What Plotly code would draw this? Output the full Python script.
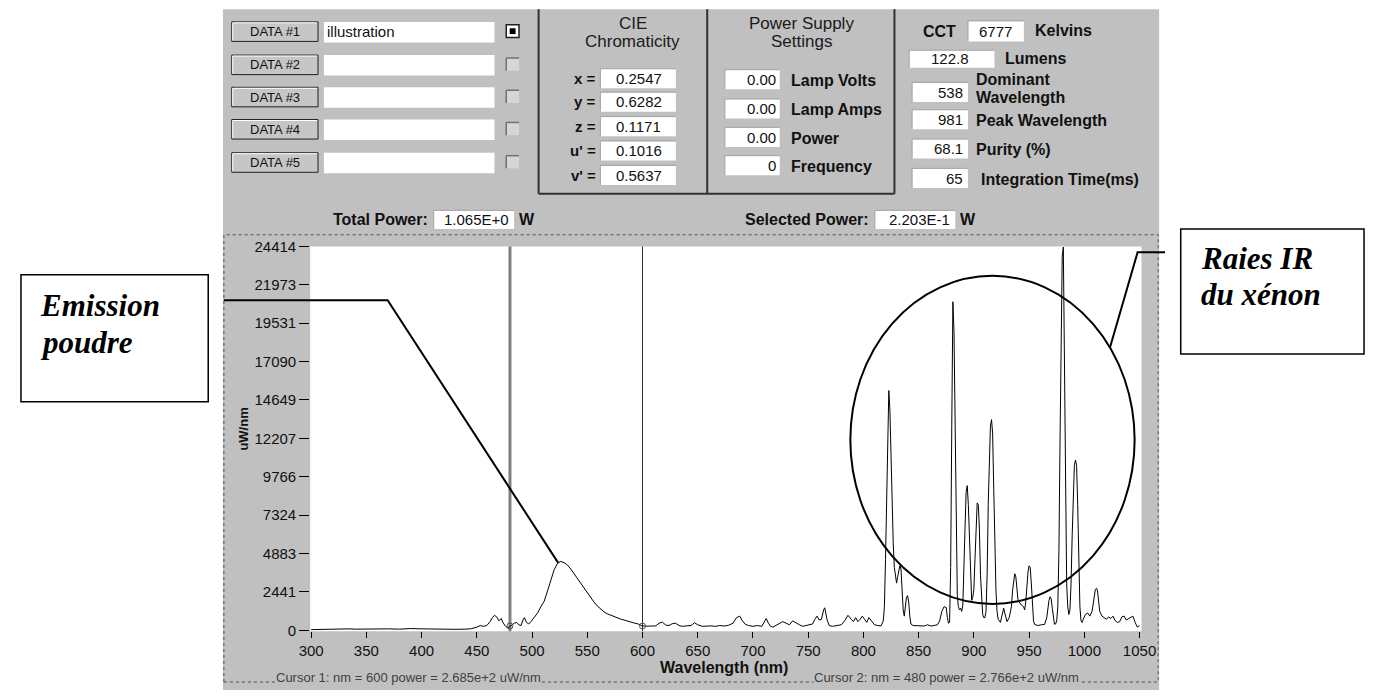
import plotly.graph_objects as go

# page body keeps its default 8px margin, so the figure is 16px smaller than the window
PAGE_W, PAGE_H = 1389, 698
MARGIN = 8
W, H = PAGE_W - 2 * MARGIN, PAGE_H - 2 * MARGIN

# ---------------- data ----------------
wavelength_nm = [
    300, 310, 320, 330, 335, 340, 350, 360, 365, 370, 380, 390, 400, 410, 420, 430, 440, 445,
    450, 453, 456, 459, 462, 464, 466, 468, 470, 472, 474, 476, 478, 480, 482, 484, 486, 488,
    490, 492, 493, 495, 497, 499, 502, 505, 508, 511, 514, 517, 520, 523, 526, 529, 532, 535,
    538, 541, 544, 547, 550, 553, 556, 559, 562, 565, 568, 571, 574, 577, 580, 584, 588, 592,
    596, 600, 604, 608, 612, 615, 618, 621, 624, 627, 630, 633, 636, 640, 644, 647, 650, 654,
    658, 662, 666, 670, 674, 678, 682, 685, 688, 690, 693, 696, 700, 704, 708, 710, 712, 714,
    716, 718, 721, 724, 727, 730, 733, 736, 739, 742, 745, 748, 751, 754, 756, 758, 760, 762,
    764, 765, 767, 769, 772, 776, 780, 783, 786, 789, 791, 793, 795, 797, 799, 801, 803, 805,
    807, 810, 813, 816, 818,
    819, 820, 821, 822, 823, 824, 825, 826, 827, 828, 829, 830, 831, 832, 833, 834, 835, 836,
    837, 838, 839, 840, 841, 842, 843, 845, 848, 851, 855, 858, 861, 864, 867, 869, 871, 873,
    875, 876, 877, 878, 879, 880, 881, 882, 883, 884, 885, 886, 887, 888, 889, 890, 891, 892,
    893, 894, 895, 896, 897, 898, 899, 900, 901, 902, 903, 904, 905, 906, 907, 908, 909, 910,
    911, 912, 913, 914, 915, 916, 917, 918, 919, 920, 921, 922, 924, 926, 927, 928, 930, 932,
    934, 935, 936, 937, 938, 939, 940, 941, 943, 945, 946, 947, 948, 949, 950, 951, 952, 953,
    954, 955, 958, 961, 964, 966, 967, 968, 969, 970, 971, 972, 973, 974, 975, 976, 977, 978,
    979, 980, 981, 982, 983, 984, 985, 986, 987, 988, 989, 990, 991, 992, 993, 994, 995, 996,
    997, 998, 999, 1001, 1003, 1005, 1007, 1008, 1009, 1010, 1011, 1012, 1013, 1014, 1016, 1018,
    1020, 1022, 1024, 1026, 1028, 1030, 1032, 1034, 1036, 1038, 1040, 1042, 1044, 1046, 1048, 1050,
]
power_uw = [
    40, 60, 50, 110, 90, 70, 90, 110, 80, 90, 70, 110, 90, 70, 80, 60, 70, 100,
    200, 300, 250, 300, 550, 800, 950, 850, 600, 750, 450, 250, 150, 277, 350, 450, 500, 350,
    300, 700, 800, 500, 400, 550, 800, 1100, 1500, 1850, 2500, 3200, 3850, 4250, 4380, 4300, 4150, 3900,
    3600, 3300, 2950, 2650, 2350, 2050, 1800, 1550, 1350, 1180, 1050, 950, 870, 800, 720, 620, 560, 470,
    400, 269, 260, 250, 280, 450, 520, 330, 300, 420, 450, 300, 250, 280, 300, 480, 350, 250,
    270, 280, 250, 300, 270, 320, 450, 800, 900, 650, 380, 300, 250, 300, 250, 500, 750, 450,
    250, 200, 300, 450, 550, 450, 350, 600, 450, 350, 250, 300, 350, 400, 700, 900, 650, 700,
    1300, 1430, 700, 300, 250, 300, 350, 600, 950, 700, 550, 800, 550, 700, 900, 700, 500, 800,
    600, 350, 300, 280, 600,
    1500, 4500, 9000, 13500, 15250, 14000, 11000, 7500, 5500, 4000, 3500, 3000, 3400, 3900, 4100, 3900, 2600, 1300,
    900, 1500, 2100, 2200, 1800, 900, 400, 300, 280, 300, 270, 350, 270, 300, 350, 600, 1200, 1500,
    1450, 800, 450, 500, 4000, 13000, 20900, 19000, 12000, 5000, 2200, 1500, 1300, 1400, 1200, 1600, 3500, 6500,
    8800, 9200, 8000, 5500, 3000, 1900, 2100, 2600, 4500, 7000, 8100, 8000, 6500, 3500, 1800, 1000, 800, 800,
    1200, 3500, 8000, 11500, 13000, 13400, 12500, 9000, 5000, 2500, 1200, 700, 500, 1000, 1400, 1100, 550, 800,
    1500, 2500, 3300, 3600, 3400, 2600, 1900, 1800, 1600, 1500, 1300, 1800, 2800, 3700, 4100, 4000, 3000, 1500,
    600, 370, 300, 350, 370, 800, 1400, 1900, 2130, 2000, 1400, 700, 380, 400, 600, 1500, 5000, 12000,
    20000, 23800, 24380, 17000, 8000, 3000, 1500, 1000, 1300, 3000, 6000, 9000, 10500, 10830, 10500, 8000, 4000, 1500,
    600, 500, 700, 1000, 1100, 900, 1200, 1800, 2300, 2600, 2670, 2500, 1800, 1200, 900, 800,
    700, 850, 750, 900, 600, 500, 550, 850, 900, 650, 750, 800, 900, 500, 200, 300,
]

x_tick_vals = [300, 350, 400, 450, 500, 550, 600, 650, 700, 750, 800, 850, 900, 950, 1000, 1050]
y_tick_vals = [0, 2441, 4883, 7324, 9766, 12207, 14649, 17090, 19531, 21973, 24414]
y_tick_text = ["0", "2441", "4883", "7324", "9766", "12207", "14649", "17090", "19531", "21973", "24414"]

cursor_labels = ["Cursor 1", "Cursor 2"]
cursor_nm = [600, 480]
cursor_power = [268.5, 276.6]

data_buttons = ["DATA #1", "DATA #2", "DATA #3", "DATA #4", "DATA #5"]
data_names = ["illustration", "", "", "", ""]
data_checked = [True, False, False, False, False]

cie_labels = ["x =", "y =", "z =", "u' =", "v' ="]
cie_values = ["0.2547", "0.6282", "0.1171", "0.1016", "0.5637"]

psu_labels = ["Lamp Volts", "Lamp Amps", "Power", "Frequency"]
psu_values = ["0.00", "0.00", "0.00", "0"]

cct_value = "6777"
lumens_value = "122.8"
right_labels = ["Peak Wavelength", "Purity (%)", "Integration Time(ms)"]
right_values = ["981", "68.1", "65"]
dominant_value = "538"

total_power = "1.065E+0"
selected_power = "2.203E-1"

# ---------------- helpers (window pixel -> paper) ----------------
def X(px):
    return (px - MARGIN) / W


def Y(py):
    return 1 - (py - MARGIN) / H


UI = "Liberation Sans, Arial, sans-serif"
SERIF = "Liberation Serif, Times New Roman, serif"
GRAY = "#c0c0c0"

shapes = []
annotations = []


def rect(x0, y0, x1, y1, fill="rgba(0,0,0,0)", lc="rgba(0,0,0,0)", lw=0, dash=None, layer="below"):
    ln = dict(color=lc, width=lw)
    if dash:
        ln["dash"] = dash
    shapes.append(dict(type="rect", xref="paper", yref="paper", x0=X(x0), x1=X(x1),
                       y0=Y(y1), y1=Y(y0), fillcolor=fill, line=ln, layer=layer))


def seg(x0, y0, x1, y1, color="#000", lw=1, layer="below"):
    shapes.append(dict(type="line", xref="paper", yref="paper", x0=X(x0), x1=X(x1),
                       y0=Y(y0), y1=Y(y1), line=dict(color=color, width=lw), layer=layer))


def text(x, y, s, size=14, bold=False, italic=False, anchor="left", color="#111111",
         family=UI, bg=None, angle=0):
    t = s
    if bold:
        t = "<b>" + t + "</b>"
    if italic:
        t = "<i>" + t + "</i>"
    a = dict(x=X(x), y=Y(y), xref="paper", yref="paper", text=t, showarrow=False,
             xanchor=anchor, yanchor="middle", textangle=angle,
             font=dict(family=family, size=size, color=color), borderpad=0)
    if bg:
        a["bgcolor"] = bg
    annotations.append(a)


def inbox(x0, y0, x1, y1):
    rect(x0, y0, x1, y1, fill="#ffffff")
    seg(x0, y0, x1, y0, "#a0a0a0", 1)
    seg(x0, y0, x0, y1, "#a0a0a0", 1)


# ---------------- backgrounds ----------------
rect(215, 0, 1170, 698, fill=GRAY)
rect(304, 243, 1152, 637, fill="#ffffff")

cursor_styles = [dict(color="#303030", width=1), dict(color="#808080", width=3)]
for nm, st in zip(cursor_nm, cursor_styles):
    shapes.append(dict(type="line", xref="x", yref="y domain", x0=nm, x1=nm, y0=0, y1=1,
                       line=st, layer="below"))

# ---------------- top panel: DATA rows ----------------
row_y = [23, 57, 90, 123, 157]
for i, yc in enumerate(row_y):
    rect(224, yc - 10, 312, yc + 10, fill="#c6c6c6", lc="#202020", lw=1)
    seg(225, yc - 9, 311, yc - 9, "#ffffff", 1)
    seg(225, yc - 9, 225, yc + 9, "#ffffff", 1)
    text(268, yc, data_buttons[i], size=13, anchor="center")
    rect(318, yc - 10, 492, yc + 11, fill="#ffffff")
    if data_names[i]:
        text(320, yc, data_names[i], size=15)
    if data_checked[i]:
        rect(504, yc - 7, 517, yc + 6, fill="#ffffff", lc="#202020", lw=1.5)
        rect(507.5, yc - 3.5, 513.5, yc + 2.5, fill="#000000")
    else:
        rect(504, yc - 7, 517, yc + 6, fill="#d6d6d6")
        seg(504, yc - 7, 517, yc - 7, "#707070", 1.5)
        seg(504, yc - 7, 504, yc + 6, "#707070", 1.5)

seg(537, 0, 537, 189, "#303030", 2)
seg(709, 0, 709, 189, "#303030", 2)
seg(900, 0, 900, 189, "#303030", 2)
seg(537, 189, 900, 189, "#303030", 2)

text(633, 15, "CIE", size=17, anchor="center", color="#1a1a1a")
text(633, 33, "Chromaticity", size=17, anchor="center", color="#1a1a1a")
cie_rows = [71, 95, 120, 145, 170]
for lab, val, yc in zip(cie_labels, cie_values, cie_rows):
    text(597, yc, lab, size=15, bold=True, anchor="right")
    inbox(600, yc - 10, 677, yc + 10)
    text(639, yc, val, size=15, anchor="center")

text(805, 15, "Power Supply", size=17, anchor="center", color="#1a1a1a")
text(805, 33, "Settings", size=17, anchor="center", color="#1a1a1a")
psu_rows = [72, 102, 131, 160]
for lab, val, yc in zip(psu_labels, psu_values, psu_rows):
    inbox(727, yc - 10, 783, yc + 10)
    text(780, yc, val, size=15, anchor="right")
    text(793, yc + 1, lab, size=16, bold=True)

text(928, 23, "CCT", size=16, bold=True)
inbox(975, 12, 1032, 33)
text(1003, 23, cct_value, size=15, anchor="center")
text(1042, 22, "Kelvins", size=16, bold=True)
inbox(915, 42, 1002, 60)
text(957, 51, lumens_value, size=15, anchor="center")
text(1012, 51, "Lumens", size=16, bold=True)
inbox(918, 75, 975, 95)
text(971, 85, dominant_value, size=15, anchor="right")
text(982, 72, "Dominant", size=16, bold=True)
text(982, 90, "Wavelength", size=16, bold=True)
right_rows = [113, 143, 173]
right_label_x = [982, 982, 987]
for lab, val, yc, lx in zip(right_labels, right_values, right_rows, right_label_x):
    inbox(918, yc - 10, 975, yc + 10)
    text(971, yc, val, size=15, anchor="right")
    text(lx, yc + 1, lab, size=16, bold=True)

text(425, 215, "Total Power:", size=16, bold=True, anchor="right")
inbox(430, 206, 512, 225)
text(508, 215, total_power, size=15, anchor="right")
text(516, 215, "W", size=16, bold=True)
text(875, 215, "Selected Power:", size=16, bold=True, anchor="right")
inbox(880, 206, 962, 225)
text(958, 215, selected_power, size=15, anchor="right")
text(966, 215, "W", size=16, bold=True)

# dotted graph frame (bottom kept inside the visible figure)
rect(216, 231, 1169, 689, lc="#505050", lw=1, dash="dot", layer="above")

text(726, 674, "Wavelength (nm)", size=16, bold=True, anchor="center")
text(236, 430, "uW/nm", size=13, bold=True, anchor="center", angle=-90)

cursor_text_x = [268, 817]
for lab, nm, pw, cx in zip(cursor_labels, cursor_nm, cursor_power, cursor_text_x):
    s = f"{lab}: nm = {nm} power = {pw / 100:.3f}e+2 uW/nm"
    text(cx, 684, s, size=13, color="#404040", bg=GRAY)

# ---------------- callouts ----------------
rect(9, 272, 200, 402, lc="#000000", lw=1.5, layer="above")
text(27, 303, "Emission", size=31, bold=True, italic=True, family=SERIF, color="#000")
text(27, 341, "poudre", size=31, bold=True, italic=True, family=SERIF, color="#000")
shapes.append(dict(type="path", xref="paper", yref="paper",
                   path=f"M {X(216)},{Y(298)} L {X(383)},{Y(298)} L {X(557)},{Y(567)}",
                   line=dict(color="#000", width=2), layer="above"))

rect(1192, 225, 1379, 353, lc="#000000", lw=1.5, layer="above")
text(1212, 255, "Raies IR", size=31, bold=True, italic=True, family=SERIF, color="#000")
text(1212, 292, "du xénon", size=31, bold=True, italic=True, family=SERIF, color="#000")
shapes.append(dict(type="path", xref="paper", yref="paper",
                   path=f"M {X(1176)},{Y(249)} L {X(1148)},{Y(249)} L {X(1120)},{Y(346)}",
                   line=dict(color="#000", width=2), layer="above"))
shapes.append(dict(type="circle", xref="paper", yref="paper", x0=X(855), x1=X(1145),
                   y0=Y(609), y1=Y(273), line=dict(color="#000", width=2), layer="above"))

# ---------------- figure ----------------
fig = go.Figure()
fig.add_trace(go.Scatter(x=wavelength_nm, y=power_uw, mode="lines",
                         line=dict(color="#000000", width=1), hoverinfo="skip"))
fig.add_trace(go.Scatter(x=cursor_nm, y=cursor_power, mode="markers",
                         marker=dict(symbol="circle-open", size=6, color="#505050",
                                     line=dict(width=1)), hoverinfo="skip"))

x_lo = 300 - 1 / 1.12667
x_hi = 1050 + 2 / 1.12667
y_lo = -1 * 24414 / 393
fig.update_layout(
    width=W, height=H,
    margin=dict(l=0, r=0, t=0, b=0),
    paper_bgcolor="#ffffff",
    plot_bgcolor="rgba(0,0,0,0)",
    showlegend=False,
    shapes=shapes,
    annotations=annotations,
    xaxis=dict(domain=[X(304), X(1152)], range=[x_lo, x_hi], tickvals=x_tick_vals,
               ticks="outside", ticklen=6, tickcolor="#000", tickwidth=1,
               tickfont=dict(family=UI, size=15, color="#111"),
               showgrid=False, zeroline=False, showline=False, fixedrange=True),
    yaxis=dict(domain=[Y(637), Y(243)], range=[y_lo, 24414], tickvals=y_tick_vals,
               ticktext=y_tick_text, ticks="outside", ticklen=10, tickcolor="#000",
               tickwidth=1, tickfont=dict(family=UI, size=15, color="#111"),
               showgrid=False, zeroline=False, showline=False, fixedrange=True),
)

fig.write_html("out.html", config={"displayModeBar": False})
